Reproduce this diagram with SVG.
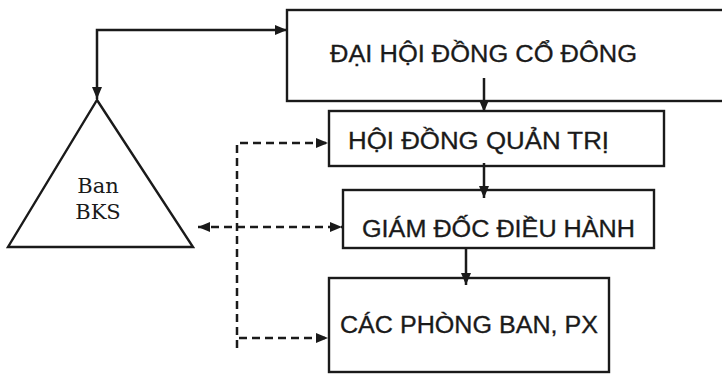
<svg xmlns="http://www.w3.org/2000/svg" width="722" height="375" viewBox="0 0 722 375">
<style>
.box{fill:#fff;stroke:#1a1a1a;stroke-width:2.4}
.lbl{font-family:"Liberation Sans",Arial,sans-serif;font-size:23px;fill:#1a1a1a;stroke:#1a1a1a;stroke-width:0.3}
.ser{font-family:"DejaVu Serif","Liberation Serif",serif;font-size:21px;fill:#1a1a1a;text-anchor:middle}
.ln{fill:none;stroke:#1a1a1a;stroke-width:2.5}
.dash{fill:none;stroke:#1a1a1a;stroke-width:2.5;stroke-dasharray:8 5}
</style>
<defs>
<marker id="ah" viewBox="0 0 12 10" refX="12" refY="5" markerWidth="12" markerHeight="10" markerUnits="userSpaceOnUse" orient="auto-start-reverse">
<path d="M0,0 L12,5 L0,10 z" fill="#1a1a1a"/>
</marker>
</defs>
<rect width="722" height="375" fill="#fff"/>
<g id="dhdcd">
<rect class="box" x="287" y="10" width="445" height="91"/>
<text class="lbl" x="330" y="62" textLength="307" lengthAdjust="spacingAndGlyphs">ĐẠI HỘI ĐỒNG CỔ ĐÔNG</text>
</g>
<g id="hdqt">
<rect class="box" x="329" y="111" width="335" height="55"/>
<text class="lbl" x="348" y="149" textLength="261" lengthAdjust="spacingAndGlyphs">HỘI ĐỒNG QUẢN TRỊ</text>
</g>
<g id="gddh">
<rect class="box" x="343" y="190" width="311" height="58"/>
<text class="lbl" x="362" y="237" textLength="273" lengthAdjust="spacingAndGlyphs">GIÁM ĐỐC ĐIỀU HÀNH</text>
</g>
<g id="cpb">
<rect class="box" x="329" y="278" width="280" height="94"/>
<text class="lbl" x="340" y="333" textLength="258" lengthAdjust="spacingAndGlyphs">CÁC PHÒNG BAN, PX</text>
</g>
<g id="bks">
<path class="box" d="M97,100 L193,247 L8,247 Z"/>
<text class="ser" x="98" y="193">Ban</text>
<text class="ser" x="98" y="219">BKS</text>
</g>
<g id="connectors">
<path class="ln" d="M97,99 L97,30 L287,30" marker-start="url(#ah)" marker-end="url(#ah)"/>
<path class="ln" d="M484,78 L484,112" marker-end="url(#ah)"/>
<path class="ln" d="M484,163 L484,198" marker-end="url(#ah)"/>
<path class="ln" d="M466,248 L466,285" marker-end="url(#ah)"/>
<path class="dash" d="M237,348 L237,143 L328,143" marker-end="url(#ah)"/>
<path class="dash" d="M198,227 L342,227" marker-start="url(#ah)" marker-end="url(#ah)"/>
<path class="dash" d="M239,338 L328,338" marker-end="url(#ah)"/>
</g>
</svg>
